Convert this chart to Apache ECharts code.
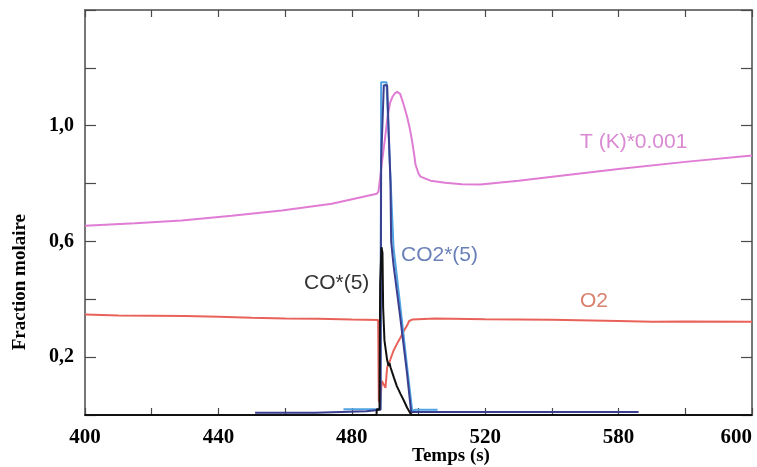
<!DOCTYPE html>
<html>
<head>
<meta charset="utf-8">
<script src="https://cdn.jsdelivr.net/npm/echarts@6/dist/echarts.min.js"></script>
<style>
  html, body { margin: 0; padding: 0; background: #fff; }
  #chart { width: 757px; height: 467px; }
</style>
</head>
<body>
<div id="chart"></div>
<script>
// temps (s) / fraction molaire
const tempX = [400, 415, 429, 444, 459, 474, 487.5, 488, 489, 490, 490.7, 491.5, 492.2, 493, 493.6, 494.5, 495.5, 496.6, 497.4, 498.1, 498.7, 499.1, 500, 500.6, 503.6, 508, 513, 518.6, 530, 542.7, 560, 580, 600];
const tempY = [0.654, 0.663, 0.672, 0.689, 0.707, 0.73, 0.765, 0.772, 0.87, 0.96, 1.03, 1.08, 1.10, 1.113, 1.117, 1.11, 1.075, 1.03, 0.99, 0.946, 0.9, 0.866, 0.835, 0.824, 0.81, 0.803, 0.798, 0.797, 0.81, 0.827, 0.85, 0.875, 0.897];

const o2X = [400, 410, 420, 430, 440, 450, 460, 470, 480, 487.9, 488.1, 488.5, 489, 489.5, 490.1, 490.6, 491.5, 492.5, 493.5, 494.6, 495.6, 496.6, 497.2, 498.1, 505, 520, 540, 560, 570, 580, 600];
const o2Y = [0.347, 0.344, 0.343, 0.342, 0.34, 0.336, 0.334, 0.333, 0.33, 0.328, 0.05, 0.04, 0.118, 0.118, 0.094, 0.165, 0.19, 0.222, 0.245, 0.268, 0.29, 0.31, 0.325, 0.33, 0.334, 0.331, 0.329, 0.325, 0.322, 0.323, 0.322];

const coX = [400, 487.4, 487.5, 488.3, 488.5, 488.9, 489.2, 489.4, 489.8, 490.6, 491.0, 491.3, 491.6, 492.6, 493.5, 494.6, 495.6, 496.6, 497.6, 498.2, 600];
const coY = [0, 0, 0.02, 0.02, 0.45, 0.58, 0.56, 0.37, 0.257, 0.19, 0.17, 0.18, 0.165, 0.13, 0.1, 0.073, 0.05, 0.025, 0.005, 0, 0];

const co2X = [477.5, 486.5, 488.6, 488.8, 489.1, 490.4, 491.3, 492.5, 494.6, 496.6, 498.1, 499.1, 505.7];
const co2Y = [0.02, 0.02, 0.02, 1.15, 1.155, 1.15, 0.9, 0.58, 0.37, 0.165, 0.015, 0.018, 0.018];

// trace bleu foncé superposée
const co2bX = [451, 469, 469.1, 484.4, 484.5, 488.6, 488.8, 489.3, 489.6, 490.6, 491.0, 491.6, 491.8, 492.5, 494.5, 496.5, 497.8, 498.2, 566];
const co2bY = [0.008, 0.008, 0.013, 0.013, 0.018, 0.018, 0.88, 0.88, 1.14, 1.14, 1.0, 0.8, 0.6, 0.52, 0.34, 0.15, 0.01, 0.01, 0.01];

// étiquettes des graduations (telles qu'imprimées sur la figure)
const xTickLabels = { 400: '400', 440: '440', 480: '480', 520: '520', 560: '580', 600: '600' };
const yTickLabels = { '0.2': '0,2', '0.6': '0,6', '1.0': '1,0' };

const zip = (xs, ys) => xs.map((x, i) => [x, ys[i]]);

const axisColor = '#4a4a4a';
const serif = '"Liberation Serif", "DejaVu Serif", serif';
const sans = '"Liberation Sans", Arial, sans-serif';

const chart = echarts.init(document.getElementById('chart'));

const lineSeries = (name, data, color, width) => ({
  name: name,
  type: 'line',
  data: data,
  showSymbol: false,
  symbol: 'none',
  animation: false,
  lineStyle: { color: color, width: width }
});

chart.setOption({
  backgroundColor: '#fff',
  animation: false,
  grid: { left: 85, right: 5, top: 10, bottom: 52, containLabel: false, outerBoundsMode: 'none' },
  xAxis: [{
    type: 'value',
    min: 400,
    max: 600,
    interval: 20,
    position: 'bottom',
    axisLine: { onZero: false, lineStyle: { color: '#222', width: 2 } },
    axisTick: { inside: true, length: 7, lineStyle: { color: axisColor, width: 1.2 } },
    splitLine: { show: false },
    axisLabel: {
      margin: 12,
      color: '#000',
      fontFamily: serif,
      fontWeight: 'bold',
      fontSize: 21,
      showMaxLabel: true,
      alignMaxLabel: 'right',
      formatter: v => xTickLabels[v] || ''
    }
  }, {
    type: 'value',
    min: 400,
    max: 600,
    interval: 20,
    position: 'top',
    axisLine: { onZero: false, lineStyle: { color: axisColor, width: 1.5 } },
    axisTick: { inside: true, length: 7, lineStyle: { color: axisColor, width: 1.2 } },
    splitLine: { show: false },
    axisLabel: { show: false }
  }],
  yAxis: [{
    type: 'value',
    min: 0,
    max: 1.4,
    interval: 0.2,
    position: 'left',
    axisLine: { show: true, onZero: false, lineStyle: { color: axisColor, width: 1.5 } },
    axisTick: { show: true, inside: true, length: 11, lineStyle: { color: axisColor, width: 1.2 } },
    splitLine: { show: false },
    axisLabel: {
      margin: 11,
      color: '#000',
      fontFamily: serif,
      fontWeight: 'bold',
      fontSize: 20,
      formatter: v => yTickLabels[v.toFixed(1)] || ''
    }
  }, {
    type: 'value',
    min: 0,
    max: 1.4,
    interval: 0.2,
    position: 'right',
    axisLine: { show: true, onZero: false, lineStyle: { color: axisColor, width: 1.5 } },
    axisTick: { show: true, inside: true, length: 11, lineStyle: { color: axisColor, width: 1.2 } },
    splitLine: { show: false },
    axisLabel: { show: false }
  }],
  graphic: [
    { type: 'text', left: 11, top: 214, rotation: Math.PI / 2,
      style: { text: 'Fraction molaire', font: 'bold 19px ' + serif, fill: '#000' } },
    { type: 'text', left: 412, top: 447,
      style: { text: 'Temps (s)', font: 'bold 19px ' + serif, fill: '#000' } },
    { type: 'text', left: 580, top: 132,
      style: { text: 'T (K)*0.001', font: '21px ' + sans, fill: '#d98ad2' } },
    { type: 'text', left: 401, top: 245,
      style: { text: 'CO2*(5)', font: '21px ' + sans, fill: '#6a80b8' } },
    { type: 'text', left: 304, top: 273,
      style: { text: 'CO*(5)', font: '21px ' + sans, fill: '#333' } },
    { type: 'text', left: 580, top: 291,
      style: { text: 'O2', font: '21px ' + sans, fill: '#d9806f' } }
  ],
  series: [
    lineSeries('T (K)*0.001', zip(tempX, tempY), '#e07cd4', 2),
    lineSeries('O2', zip(o2X, o2Y), '#e8625a', 2),
    lineSeries('CO2*(5)', zip(co2X, co2Y), '#4fa3e3', 2),
    lineSeries('CO2*(5) b', zip(co2bX, co2bY), '#3b3f8f', 2),
    lineSeries('CO*(5)', zip(coX, coY), '#111111', 2)
  ]
});
</script>
</body>
</html>
